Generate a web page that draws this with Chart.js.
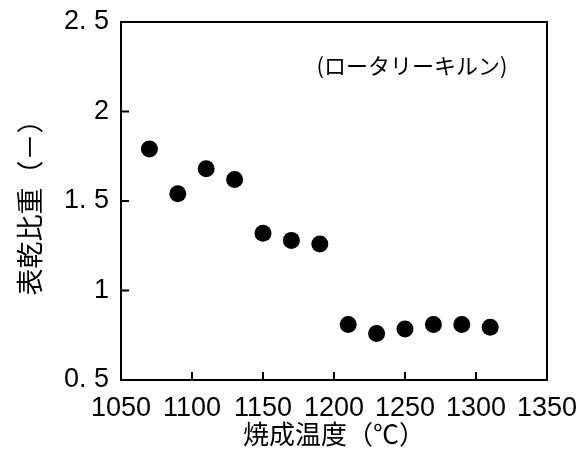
<!DOCTYPE html>
<html>
<head>
<meta charset="utf-8">
<script src="https://cdn.jsdelivr.net/npm/chart.js@4"></script>
<style>
  html, body { margin: 0; padding: 0; background: #fff; }
  #wrap { width: 587px; height: 450px; }
</style>
</head>
<body>
<div id="wrap"><canvas id="grafica"></canvas></div>
<script>
// 焼成温度 (°C) と表乾比重
const temperaturas = [1070, 1090, 1110, 1130, 1150, 1170, 1190, 1210, 1230, 1250, 1270, 1290, 1310];
const hijuu = [1.79, 1.54, 1.68, 1.62, 1.32, 1.28, 1.26, 0.81, 0.76, 0.785, 0.81, 0.81, 0.795];
const ticksX = [1050, 1100, 1150, 1200, 1250, 1300, 1350];
const ticksY = [0.5, 1, 1.5, 2, 2.5];
const etiqueta = "(ロータリーキルン)";

const fuenteNum = "'Liberation Sans Narrow', 'Liberation Sans', Arial, sans-serif";
const fuenteJp = "'Noto Sans CJK JP', sans-serif";

// marco y marcas hacia dentro
const marco = {
    id: 'marco',
    afterDraw(chart) {
        const { ctx, chartArea: a, scales } = chart;
        ctx.save();
        ctx.strokeStyle = '#000';
        ctx.lineWidth = 2;
        ctx.strokeRect(a.left, a.top, a.right - a.left, a.bottom - a.top);
        ctx.beginPath();
        ticksX.slice(1, -1).forEach(v => {
            const x = scales.x.getPixelForValue(v);
            ctx.moveTo(x, a.bottom);
            ctx.lineTo(x, a.bottom - 8);
        });
        ticksY.slice(1, -1).forEach(v => {
            const y = scales.y.getPixelForValue(v);
            ctx.moveTo(a.left, y);
            ctx.lineTo(a.left + 8, y);
        });
        ctx.stroke();
        // etiqueta del horno
        ctx.fillStyle = '#000';
        ctx.font = "22px " + fuenteJp;
        ctx.textAlign = 'center';
        ctx.textBaseline = 'middle';
        ctx.fillText(etiqueta, 412, 66);
        ctx.restore();
    }
};

const ctx = document.getElementById('grafica').getContext('2d');
new Chart(ctx, {
    type: 'scatter',
    data: {
        datasets: [{
            data: temperaturas.map((t, i) => ({ x: t, y: hijuu[i] })),
            backgroundColor: '#000',
            borderWidth: 0,
            pointRadius: 8.5,
            pointHoverRadius: 8.5
        }]
    },
    options: {
        responsive: true,
        maintainAspectRatio: false,
        animation: false,
        layout: { padding: { top: 22, right: 40, left: 14, bottom: 0 } },
        plugins: { legend: { display: false }, tooltip: { enabled: false } },
        scales: {
            x: {
                type: 'linear',
                min: 1050, max: 1350,
                afterBuildTicks: s => { s.ticks = ticksX.map(v => ({ value: v })); },
                afterFit: s => { s.height = 70; },
                grid: { display: false },
                border: { display: false },
                ticks: {
                    color: '#000',
                    padding: 4,
                    maxRotation: 0,
                    font: { family: fuenteNum, size: 27 },
                    callback: v => String(v)
                },
                title: {
                    display: true,
                    text: '焼成温度（℃）',
                    color: '#000',
                    padding: { top: -14, bottom: 0 },
                    font: { family: fuenteJp, size: 26 }
                }
            },
            y: {
                min: 0.5, max: 2.5,
                afterBuildTicks: s => { s.ticks = ticksY.map(v => ({ value: v })); },
                afterFit: s => { s.width = 107; },
                grid: { display: false },
                border: { display: false },
                ticks: {
                    color: '#000',
                    padding: 4,
                    font: { family: fuenteNum, size: 27 },
                    callback: v => String(v).replace('.', '. ')
                },
                title: {
                    display: true,
                    text: '表乾比重（－）',
                    color: '#000',
                    padding: { top: 0, bottom: 0 },
                    font: { family: fuenteJp, size: 27 }
                }
            }
        }
    },
    plugins: [marco]
});
</script>
</body>
</html>
